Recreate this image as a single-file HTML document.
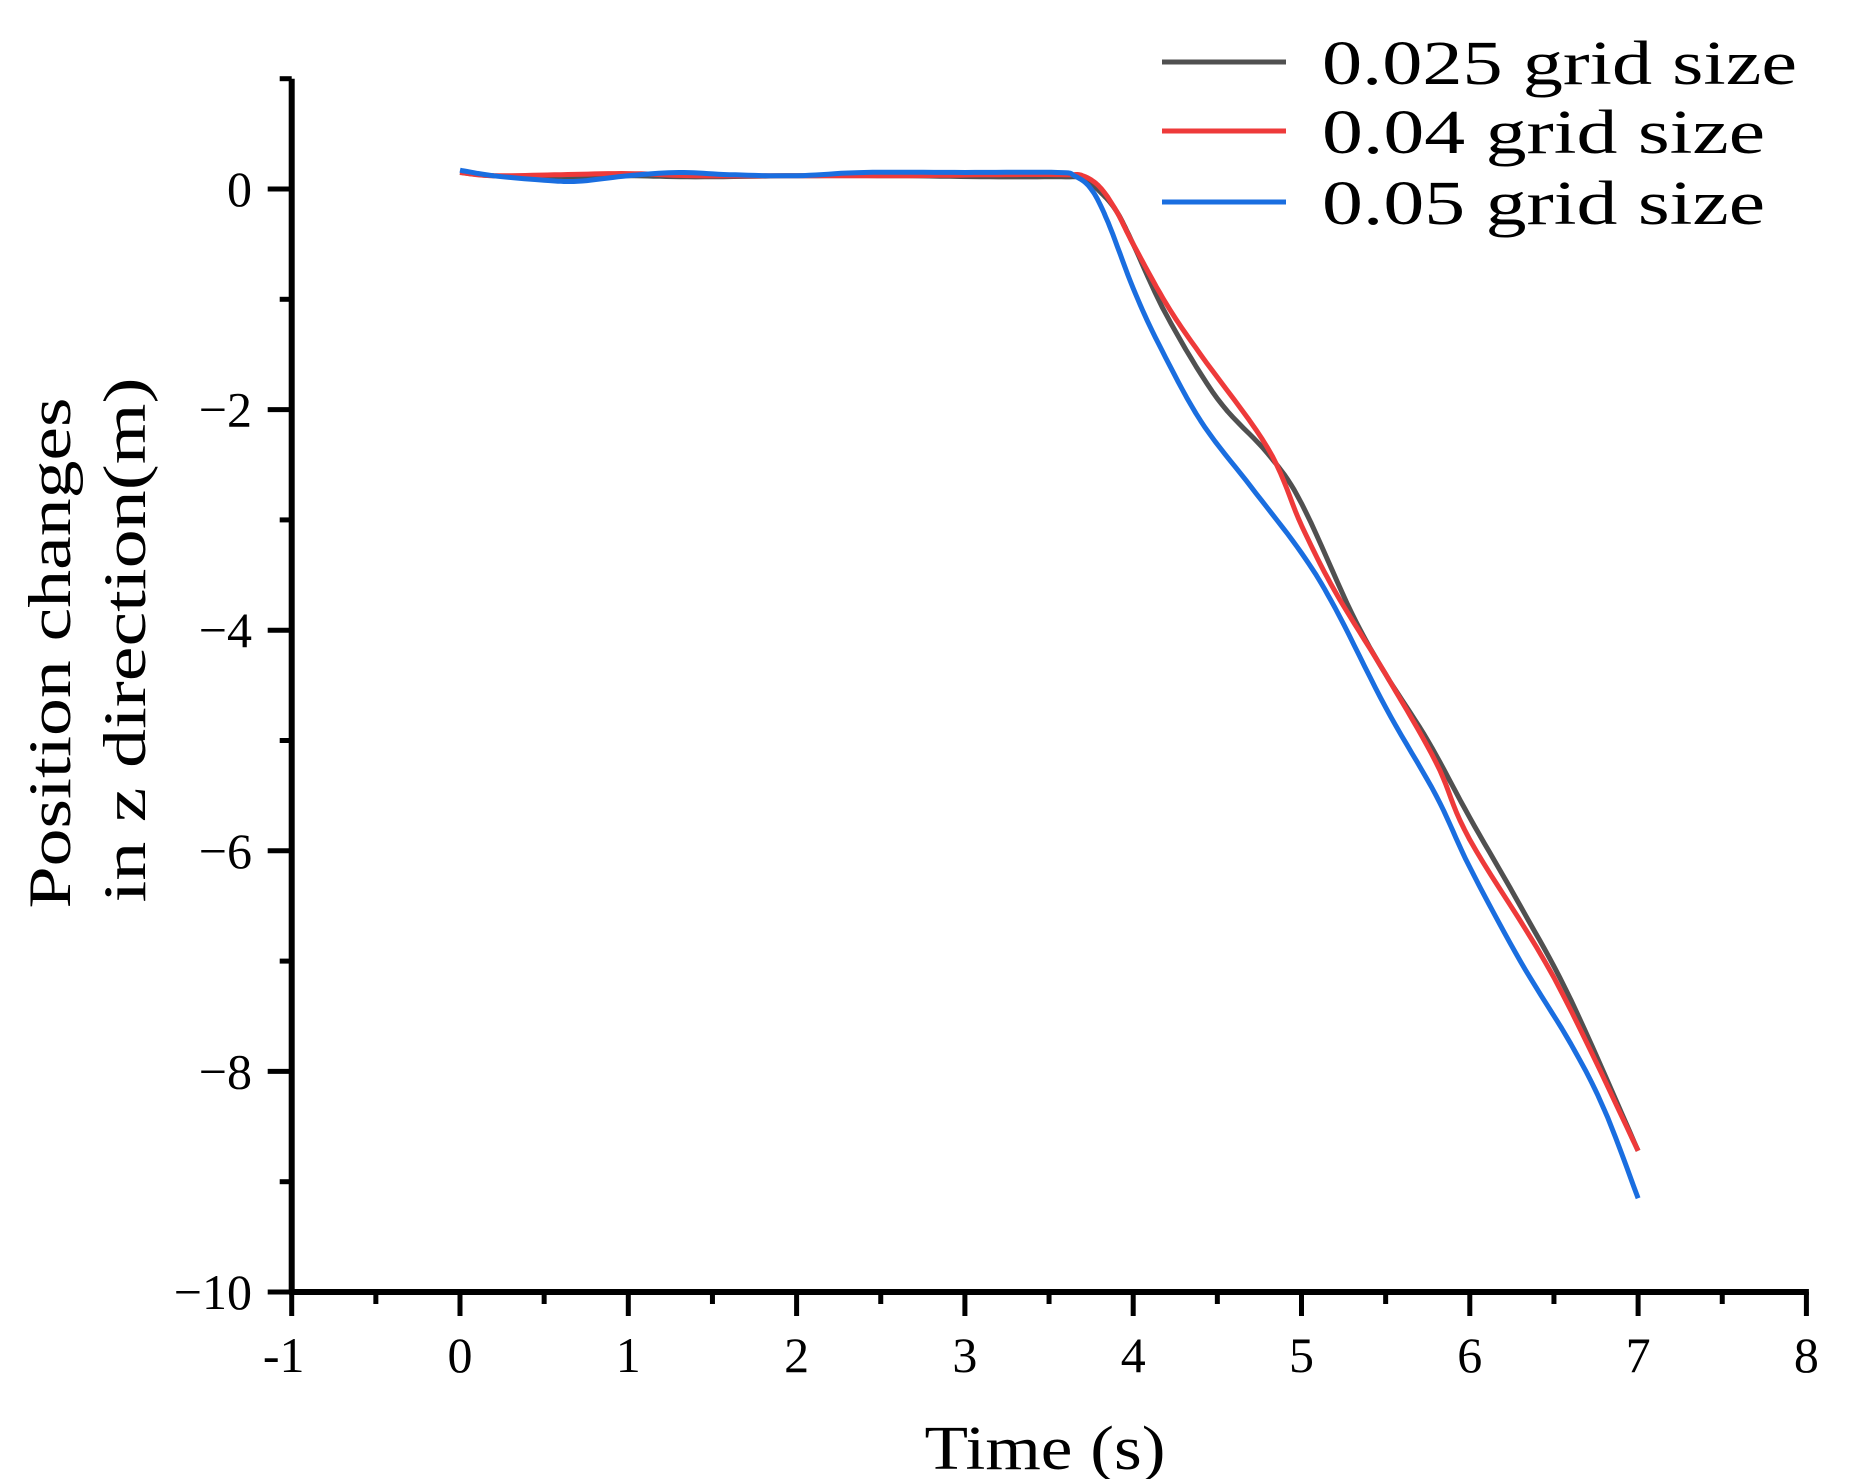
<!DOCTYPE html>
<html><head><meta charset="utf-8"><style>html,body{margin:0;padding:0;background:#fff}svg{display:block}</style></head>
<body>
<svg id="s" width="1853" height="1479" viewBox="0 0 1853 1479" xmlns="http://www.w3.org/2000/svg" font-family="Liberation Serif, serif">
<g id="ax" stroke="#000" stroke-width="5" fill="none"></g>
<g id="lbl" font-size="50" fill="#000" text-anchor="middle"></g>
<text x="1045" y="1469" font-size="62" text-anchor="middle" textLength="241" lengthAdjust="spacingAndGlyphs">Time (s)</text>
<text transform="translate(70,653) rotate(-90)" font-size="60" text-anchor="middle" textLength="511" lengthAdjust="spacingAndGlyphs">Position changes</text>
<text transform="translate(145,640) rotate(-90)" font-size="60" text-anchor="middle" textLength="525" lengthAdjust="spacingAndGlyphs">in z direction(m)</text>
<g id="series" fill="none" stroke-width="5" stroke-linejoin="round"></g>
<g font-size="62">
<line x1="1162" y1="62" x2="1286" y2="62" stroke="#505050" stroke-width="5"/>
<text x="1322" y="84" textLength="475" lengthAdjust="spacingAndGlyphs">0.025 grid size</text>
<line x1="1162" y1="131" x2="1286" y2="131" stroke="#ee3a3a" stroke-width="5"/>
<text x="1322" y="153" textLength="443" lengthAdjust="spacingAndGlyphs">0.04 grid size</text>
<line x1="1162" y1="202" x2="1286" y2="202" stroke="#1a6ee0" stroke-width="5"/>
<text x="1322" y="224" textLength="443" lengthAdjust="spacingAndGlyphs">0.05 grid size</text>
</g>
</svg>
<script>
var X=function(t){return 460+168.3*t},Y=function(v){return 189-110.3*v};
var ns="http://www.w3.org/2000/svg";
function el(p,n,a,txt){var e=document.createElementNS(ns,n);for(var k in a)e.setAttribute(k,a[k]);if(txt!=null)e.textContent=txt;document.getElementById(p).appendChild(e);return e;}
var x0=X(-1),y10=Y(-10),ytop=Y(1);
el("ax","line",{x1:x0,y1:ytop,x2:x0,y2:y10+2.5,"stroke-width":6});
el("ax","line",{x1:x0-2.5,y1:y10,x2:X(8)+2.5,y2:y10,"stroke-width":6});
for(var v=1;v>=-10;v--){var y=Y(v);var maj=(v%2==0);el("ax","line",{x1:x0-(maj?24:12),y1:y,x2:x0,y2:y});
 if(maj){el("lbl","text",{x:252,y:y+17,"text-anchor":"end"},v<0?"\u2212"+(-v):String(v));}}
for(var t=-1;t<=8.01;t+=0.5){var x=X(t);var maj=Math.abs(t-Math.round(t))<0.01;el("ax","line",{x1:x,y1:y10,x2:x,y2:y10+(maj?24:12)});
 if(maj){el("lbl","text",{x:x+(t<0?-8:0),y:y10+80},t<0?"-1":String(Math.round(t)));}}
function smooth(pts){var out=[];for(var i=0;i<pts.length-1;i++){var p0=pts[Math.max(0,i-1)],p1=pts[i],p2=pts[i+1],p3=pts[Math.min(pts.length-1,i+2)];
 for(var s=0;s<10;s++){var u=s/10,u2=u*u,u3=u2*u;var f=function(a,b,c,d){return 0.5*((2*b)+(-a+c)*u+(2*a-5*b+4*c-d)*u2+(-a+3*b-3*c+d)*u3)};out.push([f(p0[0],p1[0],p2[0],p3[0]),f(p0[1],p1[1],p2[1],p3[1])]);}}
 out.push(pts[pts.length-1]);return out;}
var black=[[0,0.15],[0.2,0.12],[0.6,0.11],[1.0,0.12],[1.4,0.11],[2,0.12],[2.6,0.12],[3.2,0.11],[3.6,0.11],[3.7,0.1],[3.8,-0.02],[3.9,-0.2],[4.0,-0.5],[4.2,-1.15],[4.5,-1.9],[4.8,-2.4],[5.0,-2.85],[5.3,-3.85],[5.5,-4.4],[5.75,-5.0],[6.0,-5.7],[6.3,-6.5],[6.6,-7.35],[7.0,-8.72]];
var red=[[0,0.15],[0.2,0.12],[0.6,0.13],[1.0,0.14],[1.4,0.12],[2,0.12],[2.6,0.12],[3.2,0.13],[3.6,0.13],[3.7,0.12],[3.8,0.02],[3.9,-0.2],[4.0,-0.5],[4.2,-1.05],[4.4,-1.5],[4.8,-2.35],[5.0,-3.05],[5.2,-3.65],[5.5,-4.4],[5.8,-5.2],[6.0,-5.9],[6.5,-7.15],[7.0,-8.72]];
var blue=[[0,0.17],[0.2,0.12],[0.5,0.08],[0.7,0.07],[1.0,0.12],[1.3,0.15],[1.6,0.13],[2,0.12],[2.4,0.15],[3.0,0.15],[3.55,0.15],[3.65,0.12],[3.75,0.0],[3.85,-0.3],[4.0,-0.9],[4.15,-1.4],[4.4,-2.1],[4.7,-2.7],[5.0,-3.3],[5.2,-3.8],[5.5,-4.7],[5.8,-5.5],[6.0,-6.15],[6.3,-7.0],[6.6,-7.75],[6.8,-8.35],[7.0,-9.15]];
[[black,"#505050"],[red,"#ee3a3a"],[blue,"#1a6ee0"]].forEach(function(s){var p=smooth(s[0]).map(function(q){return X(q[0]).toFixed(1)+","+Y(q[1]).toFixed(1)}).join(" ");el("series","polyline",{points:p,stroke:s[1]});});
</script>
</body></html>
